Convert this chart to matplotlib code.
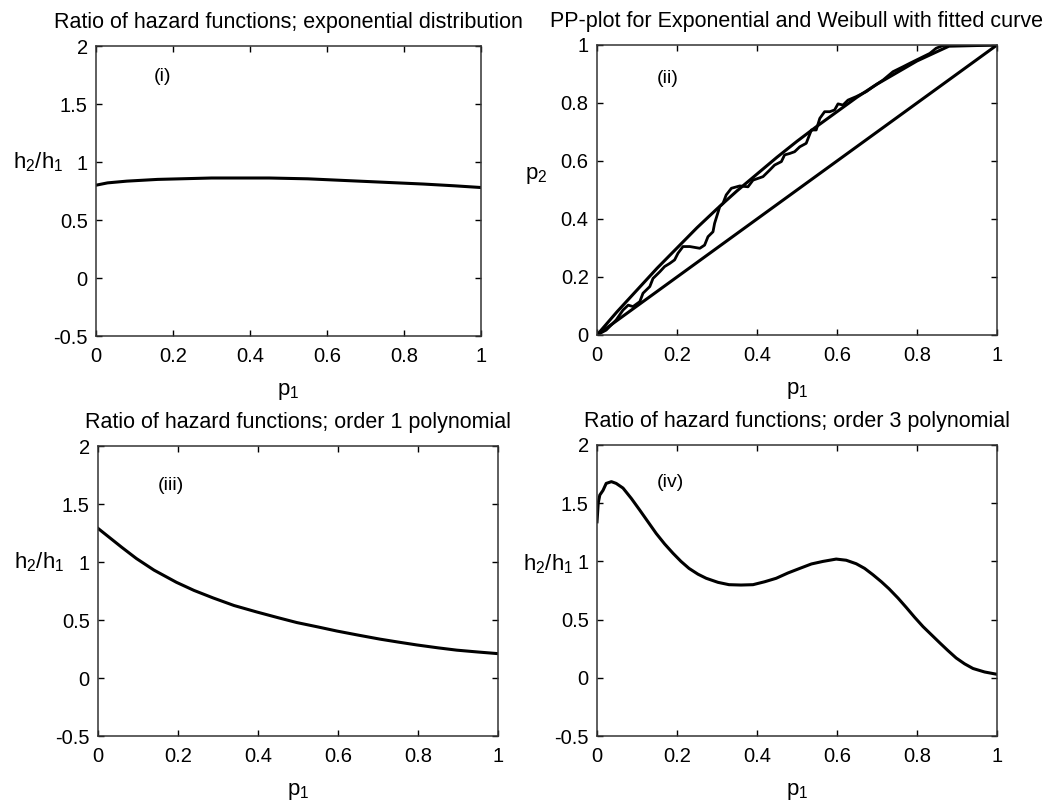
import matplotlib
matplotlib.use('Agg')
import matplotlib.pyplot as plt

plt.rcParams['font.family'] = ['Liberation Sans', 'DejaVu Sans']
plt.rcParams['mathtext.fontset'] = 'custom'
plt.rcParams['mathtext.rm'] = 'Liberation Sans'
plt.rcParams['mathtext.it'] = 'Liberation Sans'
plt.rcParams['mathtext.default'] = 'regular'

# (i) ratio of hazard functions, exponential distribution
p1_exp = [0.0, 0.03, 0.08, 0.16, 0.3, 0.45, 0.55, 0.65, 0.75, 0.85, 0.93, 1.0]
ratio_exp = [0.80, 0.82, 0.835, 0.85, 0.862, 0.862, 0.855, 0.84, 0.825, 0.81, 0.795, 0.78]

# (ii) PP-plot: empirical, fitted curve, diagonal
pp_emp_x = [0.0, 0.023, 0.048, 0.065, 0.078, 0.09, 0.107, 0.115, 0.132, 0.14, 0.157, 0.169,
            0.182, 0.194, 0.2025, 0.215, 0.219, 0.232, 0.257, 0.269, 0.2775, 0.29, 0.294,
            0.307, 0.315, 0.323, 0.336, 0.357, 0.3775, 0.39, 0.4025, 0.415, 0.432, 0.444,
            0.461, 0.469, 0.482, 0.494, 0.507, 0.523, 0.536, 0.548, 0.557, 0.569, 0.582,
            0.594, 0.6025, 0.615, 0.6275, 0.648, 0.673, 0.69, 0.715, 0.74, 0.765, 0.782,
            0.807, 0.832, 0.848, 0.865, 0.898, 1.0]
pp_emp_y = [0.0, 0.017, 0.052, 0.086, 0.103, 0.098, 0.115, 0.144, 0.167, 0.195, 0.218,
            0.236, 0.247, 0.259, 0.282, 0.305, 0.305, 0.305, 0.299, 0.31, 0.339, 0.356,
            0.385, 0.443, 0.454, 0.483, 0.506, 0.514, 0.511, 0.534, 0.54, 0.546, 0.569,
            0.586, 0.598, 0.621, 0.626, 0.632, 0.649, 0.661, 0.707, 0.707, 0.747, 0.77,
            0.77, 0.776, 0.797, 0.793, 0.81, 0.822, 0.839, 0.856, 0.879, 0.908, 0.925,
            0.937, 0.954, 0.971, 0.989, 0.998, 1.0, 1.0]
pp_fit_x = [0.0, 0.05, 0.1, 0.15, 0.2, 0.25, 0.3, 0.35, 0.4, 0.45, 0.5, 0.55, 0.6, 0.65,
            0.7, 0.75, 0.8, 0.85, 0.88, 1.0]
pp_fit_y = [0.0, 0.08, 0.155, 0.23, 0.30, 0.37, 0.435, 0.497, 0.555, 0.613, 0.668, 0.72,
            0.77, 0.82, 0.865, 0.905, 0.945, 0.977, 0.996, 1.0]
diag = [0.0, 1.0]

# (iii) order 1 polynomial
p1_o1 = [0.0, 0.02, 0.04, 0.06, 0.096, 0.14, 0.196, 0.24, 0.288, 0.34, 0.396, 0.45,
         0.497, 0.55, 0.597, 0.65, 0.705, 0.75, 0.797, 0.85, 0.897, 0.95, 1.0]
ratio_o1 = [1.29, 1.235, 1.18, 1.125, 1.03, 0.93, 0.825, 0.755, 0.69, 0.625, 0.57, 0.52,
            0.478, 0.44, 0.405, 0.37, 0.335, 0.31, 0.285, 0.26, 0.24, 0.224, 0.21]

# (iv) order 3 polynomial
p1_o3 = [0.0, 0.003, 0.007, 0.015, 0.023, 0.036, 0.048, 0.065, 0.086, 0.107, 0.1275,
         0.148, 0.169, 0.19, 0.21, 0.23, 0.2525, 0.273, 0.3025, 0.33, 0.36, 0.39, 0.419,
         0.448, 0.477, 0.507, 0.536, 0.565, 0.598, 0.623, 0.648, 0.669, 0.69, 0.711, 0.73,
         0.7525, 0.773, 0.794, 0.815, 0.836, 0.857, 0.877, 0.898, 0.919, 0.94, 0.969, 1.0]
ratio_o3 = [1.34, 1.5, 1.57, 1.61, 1.67, 1.685, 1.67, 1.63, 1.54, 1.44, 1.34, 1.24, 1.15,
            1.07, 1.0, 0.94, 0.89, 0.855, 0.82, 0.80, 0.797, 0.80, 0.825, 0.855, 0.90,
            0.94, 0.978, 1.0, 1.02, 1.01, 0.98, 0.94, 0.885, 0.825, 0.765, 0.685, 0.605,
            0.52, 0.44, 0.37, 0.30, 0.235, 0.17, 0.12, 0.08, 0.05, 0.03]

W, H = 1047, 806
fig = plt.figure(figsize=(W / 100, H / 100), dpi=100)


def make_ax(left, top, right, bottom):
    return fig.add_axes([left / W, 1 - bottom / H, (right - left) / W, (bottom - top) / H])


def style(ax, title, ylabel, ylab_dx, ylab_y, yticks, ylim, label, lx, ly):
    ax.set_xlim(0, 1)
    ax.set_ylim(*ylim)
    ax.set_xticks([0, 0.2, 0.4, 0.6, 0.8, 1])
    ax.set_xticklabels(['0', '0.2', '0.4', '0.6', '0.8', '1'])
    ax.set_yticks(yticks)
    ax.set_yticklabels([('%g' % t) for t in yticks])
    ax.tick_params(direction='in', top=True, right=True, labelsize=14.5, length=4, width=1)
    ax.tick_params(axis='x', pad=8)
    ax.tick_params(axis='y', pad=6)
    for s in ax.spines.values():
        s.set_linewidth(1.1)
        s.set_color('#333333')
    ax.set_title(title, fontsize=15.5, pad=13)
    ax.set_xlabel('p$_1$', fontsize=16)
    ax.xaxis.set_label_coords(0.5, -0.155)
    ax.set_ylabel(ylabel, fontsize=16, rotation=0, ha='right', va='center')
    ax.yaxis.set_label_coords(ylab_dx, ylab_y)
    ax.text(lx, ly, label, fontsize=14, transform=ax.transData)


hz_ticks = [-0.5, 0, 0.5, 1, 1.5, 2]

ax1 = make_ax(96, 46, 481, 336)
ax1.plot(p1_exp, ratio_exp, color='black', lw=2.2)
style(ax1, 'Ratio of hazard functions; exponential distribution', 'h$_2$/h$_1$',
      -0.085, 0.6, hz_ticks, (-0.5, 2), '(i)', 0.15, 1.7)

ax2 = make_ax(597, 45, 997, 335)
ax2.plot(diag, diag, color='black', lw=2.2)
ax2.plot(pp_fit_x, pp_fit_y, color='black', lw=2.2)
ax2.plot(pp_emp_x, pp_emp_y, color='black', lw=2.0)
style(ax2, 'PP-plot for Exponential and Weibull with fitted curve', 'p$_2$',
      -0.125, 0.55, [0, 0.2, 0.4, 0.6, 0.8, 1], (0, 1), '(ii)', 0.15, 0.87)

ax3 = make_ax(98, 446, 498, 736)
ax3.plot(p1_o1, ratio_o1, color='black', lw=2.2)
style(ax3, 'Ratio of hazard functions; order 1 polynomial', 'h$_2$/h$_1$',
      -0.083, 0.6, hz_ticks, (-0.5, 2), '(iii)', 0.15, 1.62)

ax4 = make_ax(597, 445, 997, 736)
ax4.plot(p1_o3, ratio_o3, color='black', lw=2.2)
style(ax4, 'Ratio of hazard functions; order 3 polynomial', 'h$_2$/h$_1$',
      -0.06, 0.59, hz_ticks, (-0.5, 2), '(iv)', 0.15, 1.64)

fig.savefig('out.png', dpi=100)
